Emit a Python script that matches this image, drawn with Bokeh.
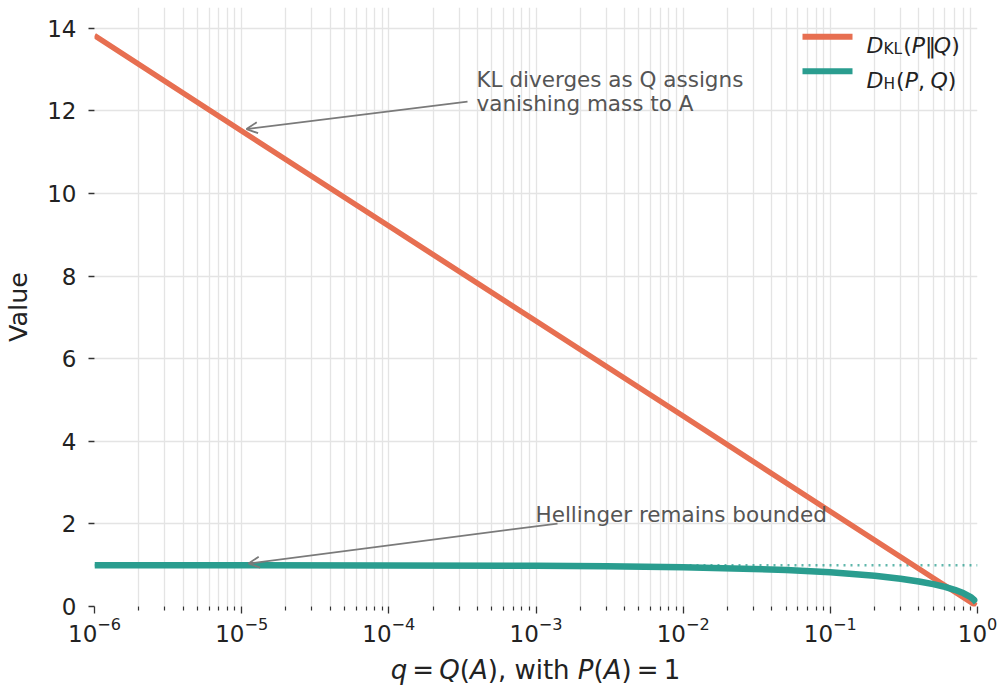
from bokeh.plotting import figure
from bokeh.layouts import column
from bokeh.models import (Range1d, FixedTicker, Span, Label, Arrow, OpenHead, Div)
from bokeh.embed import file_html
from bokeh.resources import INLINE

# ---------------- data ----------------
q_kl = [1e-6, 1e-5, 1e-4, 1e-3, 1e-2, 1e-1, 0.5, 0.98]
kl_vals = [13.82, 11.51, 9.21, 6.91, 4.61, 2.30, 0.69, 0.02]

q_h = [1e-6, 1e-5, 1e-4, 1e-3, 3e-3, 1e-2, 3e-2, 5e-2, 0.1, 0.2, 0.3, 0.4,
       0.5, 0.6, 0.7, 0.8, 0.9, 0.95, 0.98]
h_vals = [0.9995, 0.998, 0.995, 0.984, 0.972, 0.949, 0.909, 0.881, 0.827,
          0.744, 0.673, 0.606, 0.541, 0.475, 0.404, 0.325, 0.227, 0.159, 0.100]

h_bound = 1.0
x_major_ticks = [1e-6, 1e-5, 1e-4, 1e-3, 1e-2, 1e-1, 1.0]
y_major_ticks = [0, 2, 4, 6, 8, 10, 12, 14]
y_label = "Value"
x_label_html = ("<i>q</i>&#8201;=&#8201;<i>Q</i>(<i>A</i>), with "
                "<i>P</i>(<i>A</i>)&#8201;=&#8201;1")
kl_note = ["KL diverges as Q assigns", "vanishing mass to A"]
h_note = "Hellinger remains bounded"

KL_COLOR = "#E76F51"
H_COLOR = "#2A9D8F"
NOTE_COLOR = "#555555"
ARROW_COLOR = "#7a7a7a"
GRID_COLOR = "#e4e4e4"
TEXT_COLOR = "#222222"
FONT = "DejaVu Sans"

# ---------------- main figure ----------------
p = figure(width=1001, height=656, x_axis_type="log",
           x_range=Range1d(1e-6, 1.0), y_range=Range1d(0, 14.5),
           output_backend="svg", toolbar_location=None,
           min_border_left=94, min_border_right=24,
           min_border_top=7, min_border_bottom=50)
p.outline_line_color = None
p.background_fill_color = "white"
p.border_fill_color = "white"

minor = [m * 10.0 ** k for k in range(-6, 0) for m in range(2, 10)]
p.xaxis.ticker = FixedTicker(ticks=x_major_ticks, minor_ticks=minor)
p.yaxis.ticker = FixedTicker(ticks=y_major_ticks)

for ax in (p.xaxis[0], p.yaxis[0]):
    ax.axis_line_color = None
    ax.major_tick_line_color = "#333333"
    ax.major_tick_line_width = 1.3
    ax.major_tick_in = 0
    ax.major_label_text_font = FONT
    ax.major_label_text_font_size = "23px"
    ax.major_label_text_color = TEXT_COLOR

p.xaxis.major_tick_out = 7
p.xaxis.minor_tick_out = 4
p.xaxis.minor_tick_in = 0
p.xaxis.minor_tick_line_color = "#333333"
p.xaxis.minor_tick_line_width = 1.2
p.xaxis.major_label_standoff = 3

p.yaxis.major_tick_out = 6
p.yaxis.minor_tick_line_color = None
p.yaxis.major_label_standoff = 12
p.yaxis.axis_label = y_label
p.yaxis.axis_label_text_font = FONT
p.yaxis.axis_label_text_font_size = "25.5px"
p.yaxis.axis_label_text_font_style = "normal"
p.yaxis.axis_label_text_color = TEXT_COLOR
p.yaxis.axis_label_standoff = 11

p.xgrid.grid_line_color = GRID_COLOR
p.xgrid.minor_grid_line_color = GRID_COLOR
p.xgrid.grid_line_width = 1.3
p.xgrid.minor_grid_line_width = 1.3
p.ygrid.grid_line_color = GRID_COLOR
p.ygrid.grid_line_width = 1.3

# dotted bound at 1
p.add_layout(Span(location=h_bound, dimension="width", line_color=H_COLOR,
                  line_dash="2 5", line_width=2.5, line_alpha=0.75,
                  level="underlay"))

# curves
p.line(q_kl, kl_vals, line_color=KL_COLOR, line_width=5.5, line_join="round")
p.line(q_h, h_vals, line_color=H_COLOR, line_width=6.5, line_join="round")


# ---------------- helpers: page-pixel positions -> data ----------------
def rx(px):
    return 10 ** (-6 + (px - 94) / 883.0 * 6)


def ry(py):
    return (606 - py) / 41.32


W = {' ': 0.318, '(': 0.390, ')': 0.390, ',': 0.318, '=': 0.838, '1': 0.636,
     'A': 0.684, 'P': 0.603, 'Q': 0.787, 'q': 0.635, 'D': 0.770, 'K': 0.656,
     'L': 0.557, 'H': 0.752, '\u2016': 0.40}


def rich(fig, segs, x_left, base_py, size, color):
    x = x_left
    for text, ital, sc, dy, gap in segs:
        x += gap * size
        fs = size * sc
        fig.add_layout(Label(x=rx(x), y=ry(base_py + dy), text=text,
                             text_font=FONT, text_font_size=f"{fs:.1f}px",
                             text_font_style="italic" if ital else "normal",
                             text_color=color, text_align="left",
                             text_baseline="alphabetic"))
        x += sum(W.get(c, 0.6) for c in text) * fs


# legend (drawn by hand for the sub-scripted labels)
leg_kl = [("D", True, 1, 0, 0), ("KL", False, 0.7, 3, 0), ("(", False, 1, 0, 0.05),
          ("P", True, 1, 0, 0), ("\u2016", False, 1, 0, 0), ("Q", True, 1, 0, 0),
          (")", False, 1, 0, 0)]
leg_h = [("D", True, 1, 0, 0), ("H", False, 0.7, 3, 0), ("(", False, 1, 0, 0.05),
         ("P", True, 1, 0, 0), (",", False, 1, 0, 0), ("Q", True, 1, 0, 0.25),
         (")", False, 1, 0, 0)]
rich(p, leg_kl, 866, 45, 22, TEXT_COLOR)
rich(p, leg_h, 866, 80, 22, TEXT_COLOR)
p.add_layout(Arrow(end=None, x_start=rx(802), y_start=ry(36), x_end=rx(852),
                   y_end=ry(36), line_color=KL_COLOR, line_width=6))
p.add_layout(Arrow(end=None, x_start=rx(802), y_start=ry(70.5), x_end=rx(852),
                   y_end=ry(70.5), line_color=H_COLOR, line_width=6))

# annotations
for txt, base in zip(kl_note, [78.5, 102.5]):
    p.add_layout(Label(x=rx(476), y=ry(base), text=txt, text_font=FONT,
                       text_font_size="21.5px", text_color=NOTE_COLOR,
                       text_align="left", text_baseline="alphabetic"))
p.add_layout(Label(x=rx(535), y=ry(514), text=h_note, text_font=FONT,
                   text_font_size="21.5px", text_color=NOTE_COLOR,
                   text_align="left", text_baseline="alphabetic"))

p.add_layout(Arrow(end=OpenHead(size=11, line_color=ARROW_COLOR, line_width=1.8),
                   x_start=rx(467), y_start=ry(101), x_end=rx(246), y_end=ry(128.5),
                   line_color=ARROW_COLOR, line_width=1.8))
p.add_layout(Arrow(end=OpenHead(size=11, line_color=ARROW_COLOR, line_width=1.8),
                   x_start=rx(557), y_start=ry(523), x_end=rx(248), y_end=ry(563),
                   line_color=ARROW_COLOR, line_width=1.8))

# ---------------- x-axis label (real text with italics) ----------------
xlab = Div(text=('<div style="display: block; width: 1001px; box-sizing: border-box; '
                 'padding-left: 70px; font-family: \'DejaVu Sans\'; font-size: 26px; '
                 'line-height: 28px; text-align: center; color: %s; '
                 'white-space: nowrap;">%s</div>') % (TEXT_COLOR, x_label_html),
           width=1001, height=30, margin=(0, 0, 0, 0))

layout = column(p, xlab, spacing=0)
open("out.html", "w").write(file_html(layout, INLINE))
